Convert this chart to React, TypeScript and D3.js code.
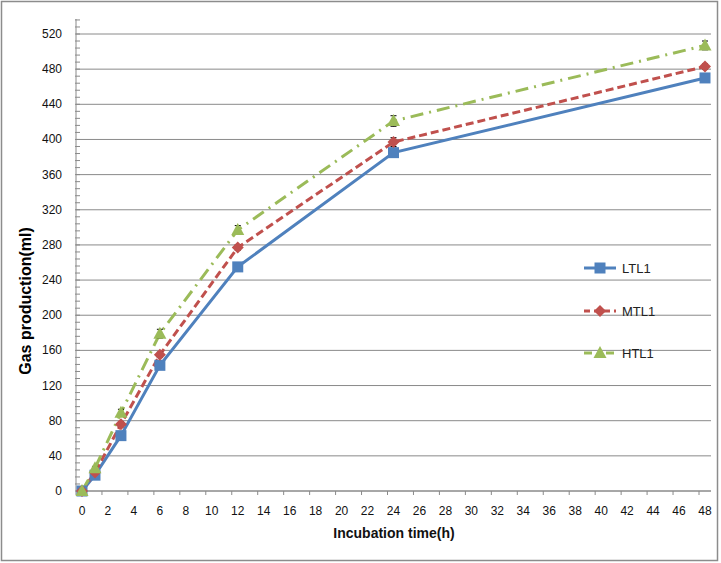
import React from "react";
import * as d3 from "d3";

const hours = [0, 1, 3, 6, 12, 24, 48];
const ltl1 = [0, 18, 63, 143, 255, 385, 470];
const mtl1 = [0, 21, 76, 155, 277, 397, 483];
const htl1 = [0, 26, 89, 179, 297, 421, 507];
const ltlErr = [0, 2, 3, 3, 3, 5, 3];
const mtlErr = [0, 2, 3, 3, 3, 5, 3];
const htlErr = [0, 2, 4, 5, 5, 6, 5];
const seriesNames = ["LTL1", "MTL1", "HTL1"];
const yTicks = d3.range(0, 521, 40);
const xTicks = d3.range(0, 49, 2);

const W = 721, H = 563;
const left = 76, right = 711, top = 19, bottom = 491;

export default function App() {
  const x = d3.scaleLinear().domain([0, 48]).range([82, 705]);
  const y = d3.scaleLinear().domain([0, 520]).range([bottom, 34]);
  const minor = d3.range(0, 537, 8);
  const series = [
    { name: seriesNames[0], vals: ltl1, err: ltlErr, color: "#4F81BD", dash: "", marker: "square" },
    { name: seriesNames[1], vals: mtl1, err: mtlErr, color: "#C0504D", dash: "8,4", marker: "diamond" },
    { name: seriesNames[2], vals: htl1, err: htlErr, color: "#9BBB59", dash: "13,6,2,6", marker: "triangle" },
  ];
  const line = d3.line<number>().x((_, i) => x(hours[i])).y((d) => y(d));
  const marker = (type: string, cx: number, cy: number, color: string, key: any) => {
    if (type === "square") return <rect key={key} x={cx - 5.5} y={cy - 5.5} width={11} height={11} fill={color} />;
    if (type === "diamond") return <path key={key} d={`M${cx},${cy - 6}L${cx + 6},${cy}L${cx},${cy + 6}L${cx - 6},${cy}Z`} fill={color} />;
    return <path key={key} d={`M${cx},${cy - 7}L${cx + 6.5},${cy + 5}L${cx - 6.5},${cy + 5}Z`} fill={color} />;
  };
  const font = "'Liberation Sans', Arial, sans-serif";
  const legendY = [268, 311, 353];
  return (
    <svg width={W} height={H} style={{ position: "absolute", left: 0, top: 0 }} fontFamily={font}>
      <rect x={0} y={0} width={W} height={H} fill="#fff" />
      <rect x={1.5} y={1.5} width={716} height={559} fill="none" stroke="#8c8c8c" strokeWidth={1.5} />
      {yTicks.map((t) => (
        <line key={"g" + t} x1={left} x2={right} y1={y(t)} y2={y(t)} stroke="#8a8a8a" strokeWidth={1} />
      ))}
      <line x1={left} x2={left} y1={top} y2={bottom} stroke="#8a8a8a" />
      {minor.map((t) => (
        <line key={"m" + t} x1={left - 1} x2={left + 4} y1={y(t)} y2={y(t)} stroke="#8a8a8a" />
      ))}
      {yTicks.map((t) => (
        <text key={"yl" + t} x={62} y={y(t) + 4} textAnchor="end" fontSize={12} fill="#111">{t}</text>
      ))}
      <line x1={left} x2={right} y1={bottom} y2={bottom} stroke="#8a8a8a" />
      {xTicks.map((t) => (
        <line key={"xt" + t} x1={x(t) - 6} x2={x(t) - 6} y1={bottom} y2={bottom + 4} stroke="#8a8a8a" />
      ))}
      {xTicks.map((t) => (
        <text key={"xl" + t} x={x(t)} y={515} textAnchor="middle" fontSize={12} fill="#111">{t}</text>
      ))}
      <text x={394} y={538} textAnchor="middle" fontSize={14} fontWeight="bold" fill="#111">Incubation time(h)</text>
      <text transform="translate(31,301) rotate(-90)" textAnchor="middle" fontSize={16} fontWeight="bold" fill="#000">Gas production(ml)</text>
      {series.map((s) => (
        <path key={"l" + s.name} d={line(s.vals) || ""} fill="none" stroke={s.color} strokeWidth={3} strokeDasharray={s.dash} />
      ))}
      {series.map((s) =>
        s.vals.map((v, i) =>
          s.err[i] > 0 ? (
            <g key={"e" + s.name + i} stroke="#000" strokeWidth={1}>
              <line x1={x(hours[i])} x2={x(hours[i])} y1={y(v - s.err[i])} y2={y(v + s.err[i])} />
              <line x1={x(hours[i]) - 3} x2={x(hours[i]) + 3} y1={y(v + s.err[i])} y2={y(v + s.err[i])} />
              <line x1={x(hours[i]) - 3} x2={x(hours[i]) + 3} y1={y(v - s.err[i])} y2={y(v - s.err[i])} />
            </g>
          ) : null
        )
      )}
      {series.map((s) => s.vals.map((v, i) => marker(s.marker, x(hours[i]), y(v), s.color, s.name + i)))}
      {series.map((s, k) => (
        <g key={"lg" + s.name}>
          <line x1={584} x2={616} y1={legendY[k]} y2={legendY[k]} stroke={s.color} strokeWidth={3} strokeDasharray={s.dash === "" ? "" : s.dash === "8,4" ? "6,4" : "8,6,2,6"} />
          {marker(s.marker, 600, legendY[k], s.color, "lm" + k)}
          <text x={622} y={legendY[k] + 5} fontSize={13} fill="#222">{s.name}</text>
        </g>
      ))}
    </svg>
  );
}
